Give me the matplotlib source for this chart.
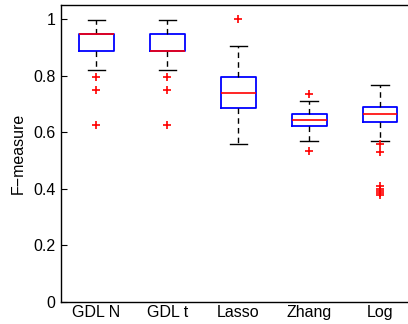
import matplotlib
matplotlib.use("Agg")
import matplotlib.pyplot as plt

plt.rcParams['font.family'] = ['Liberation Sans', 'DejaVu Sans']

methods = ["GDL N", "GDL t", "Lasso", "Zhang", "Log"]
q1 = [0.886, 0.886, 0.687, 0.621, 0.636]
median = [0.946, 0.886, 0.739, 0.642, 0.663]
q3 = [0.946, 0.946, 0.796, 0.663, 0.689]
whisker_low = [0.82, 0.82, 0.558, 0.568, 0.568]
whisker_high = [0.996, 0.996, 0.906, 0.711, 0.766]
outliers = [
    [0.796, 0.748, 0.627],
    [0.796, 0.748, 0.627],
    [0.999],
    [0.737, 0.535],
    [0.558, 0.530, 0.410, 0.400, 0.393, 0.386, 0.378],
]
yticks = [0, 0.2, 0.4, 0.6, 0.8, 1.0]
ytick_labels = ["0", "0.2", "0.4", "0.6", "0.8", "1"]

stats = []
for i, name in enumerate(methods):
    stats.append({
        "label": name,
        "q1": q1[i],
        "med": median[i],
        "q3": q3[i],
        "whislo": whisker_low[i],
        "whishi": whisker_high[i],
        "fliers": outliers[i],
    })

fig = plt.figure(figsize=(4.08, 3.24), dpi=100)
ax = fig.add_axes([61 / 408, 22 / 324, 354.5 / 408, 297 / 324])

ax.bxp(
    stats,
    widths=0.49,
    boxprops=dict(color="blue", linewidth=1.3),
    medianprops=dict(color="red", linewidth=1.2),
    whiskerprops=dict(color="black", linestyle=(0, (4, 3)), linewidth=1.0),
    capprops=dict(color="black", linewidth=1.0),
    flierprops=dict(marker="+", markeredgecolor="red", markersize=6, markeredgewidth=1.2),
)

ax.set_xlim(0.5, 5.5)
ax.set_ylim(0, 1.05)
ax.set_yticks(yticks)
ax.set_yticklabels(ytick_labels)
ax.tick_params(axis="y", direction="in", length=4, labelsize=11.5, pad=4)
ax.tick_params(axis="x", length=0, labelsize=11.5, pad=2)
ax.set_ylabel("F\u2212measure", fontsize=11.5, labelpad=5)
for side in ax.spines.values():
    side.set_linewidth(1.0)

fig.savefig("out.png", dpi=100)
